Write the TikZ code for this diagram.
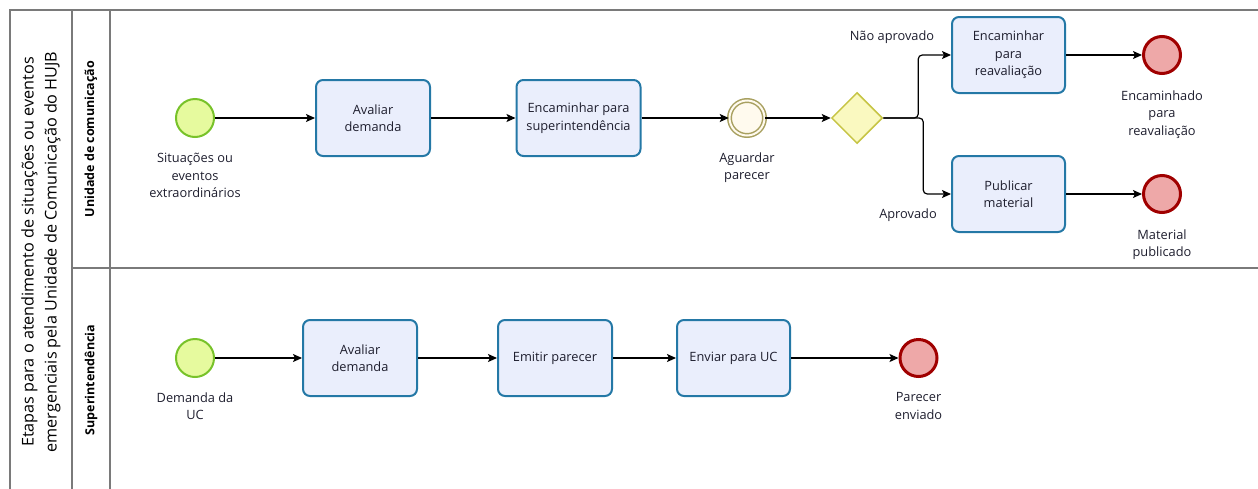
\documentclass[tikz,border=0pt]{standalone}
\usepackage{fontspec}
\setmainfont{Open Sans}
\usetikzlibrary{arrows.meta,shapes.geometric}
\definecolor{txt}{HTML}{1E1E2E}
\definecolor{taskfill}{HTML}{EAEEFC}
\definecolor{taskline}{HTML}{2478A6}
\definecolor{startfill}{HTML}{E6FA9E}
\definecolor{startline}{HTML}{78C22A}
\definecolor{endfill}{HTML}{EEA8A8}
\definecolor{endline}{HTML}{A00000}
\definecolor{midfill}{HTML}{FFFAEE}
\definecolor{midline}{HTML}{A8A060}
\definecolor{gwfill}{HTML}{FAF9C0}
\definecolor{gwline}{HTML}{C6C444}
\definecolor{frame}{HTML}{7A7A7A}
\tikzset{
  every node/.style={text=txt, font=\fontsize{12.8}{17.5}\selectfont},
  taskbox/.style={draw=taskline, fill=taskfill, line width=2pt, rounded corners=7pt,
     minimum height=76pt, align=center, inner sep=2pt},
  startev/.style={circle, draw=startline, fill=startfill, line width=2pt, minimum size=38pt, inner sep=0pt},
  endev/.style={circle, draw=endline, fill=endfill, line width=3pt, minimum size=37pt, inner sep=0pt},
  midev/.style={circle, draw=midline, fill=midfill, line width=1.5pt, double=midfill, double distance=2pt, minimum size=35pt, inner sep=0pt},
  gateway/.style={diamond, draw=gwline, fill=gwfill, line width=1.5pt, minimum width=51pt, minimum height=51pt, inner sep=0pt, aspect=1},
  evlabel/.style={align=center, anchor=north},
  flow/.style={draw=black, line width=1.2pt, -{Stealth[length=9pt,width=8pt,inset=2pt]}},
  lanelabel/.style={rotate=90, font=\bfseries\fontsize{12.5}{14}\selectfont, text=black},
}
\begin{document}
\begin{tikzpicture}[x=1pt,y=-1pt]
\useasboundingbox (0,0) rectangle (1258,488);
% frame
\draw[frame, line width=1.6pt] (10,10) rectangle (1262,492);
\draw[frame, line width=1.6pt] (72,10) -- (72,492);
\draw[frame, line width=1.6pt] (110,10) -- (110,492);
\draw[frame, line width=1.6pt] (72,268) -- (1262,268);
\node[rotate=90, align=center, text=black, font=\fontsize{16.2}{23}\selectfont] (title) at (41,252)
  {Etapas para o atendimento de situações ou eventos\\emergenciais pela Unidade de Comunicação do HUJB};
\node[lanelabel] (lane1) at (91,139) {Unidade de comunicação};
\node[lanelabel] (lane2) at (91,380) {Superintendência};

% lane 1
\node[startev] (s1) at (195,118) {};
\node[evlabel] (s1l) at (195,150) {Situações ou\\eventos\\extraordinários};
\node[taskbox, minimum width=114pt] (a1) at (373,118) {Avaliar\\demanda};
\node[taskbox, minimum width=124pt] (e1) at (578.5,118) {Encaminhar para\\superintendência};
\node[midev] (w1) at (747,118) {};
\node[evlabel] (w1l) at (747,149) {Aguardar\\parecer};
\node[gateway] (g1) at (857,118) {};
\node[taskbox, minimum width=113pt] (r1) at (1008.5,55) {Encaminhar\\para\\reavaliação};
\node[taskbox, minimum width=113pt] (p1) at (1008.5,194) {Publicar\\material};
\node[endev] (x1) at (1162,55) {};
\node[evlabel] (x1l) at (1162,87) {Encaminhado\\para\\reavaliação};
\node[endev] (x2) at (1162,194) {};
\node[evlabel] (x2l) at (1162,226) {Material\\publicado};
\node (na) at (892,37) {Não aprovado};
\node (ap) at (908,215) {Aprovado};

\draw[flow] (s1) -- (a1);
\draw[flow] (a1) -- (e1);
\draw[flow] (e1) -- (w1);
\draw[flow] (w1) -- (g1);
\draw[flow, rounded corners=4pt] (g1.east) -- ++(35,0) |- (r1.west);
\draw[flow, rounded corners=4pt] (g1.east) -- ++(40,0) |- (p1.west);
\draw[flow] (r1) -- (x1);
\draw[flow] (p1) -- (x2);

% lane 2
\node[startev] (s2) at (195,358) {};
\node[evlabel] (s2l) at (195,389) {Demanda da\\UC};
\node[taskbox, minimum width=114pt] (a2) at (360,358) {Avaliar\\demanda};
\node[taskbox, minimum width=114pt] (m2) at (555,358) {Emitir parecer};
\node[taskbox, minimum width=113pt] (v2) at (733.5,358) {Enviar para UC};
\node[endev] (x3) at (918.5,358) {};
\node[evlabel] (x3l) at (918.5,389) {Parecer\\enviado};

\draw[flow] (s2) -- (a2);
\draw[flow] (a2) -- (m2);
\draw[flow] (m2) -- (v2);
\draw[flow] (v2) -- (x3);
\end{tikzpicture}
\end{document}
